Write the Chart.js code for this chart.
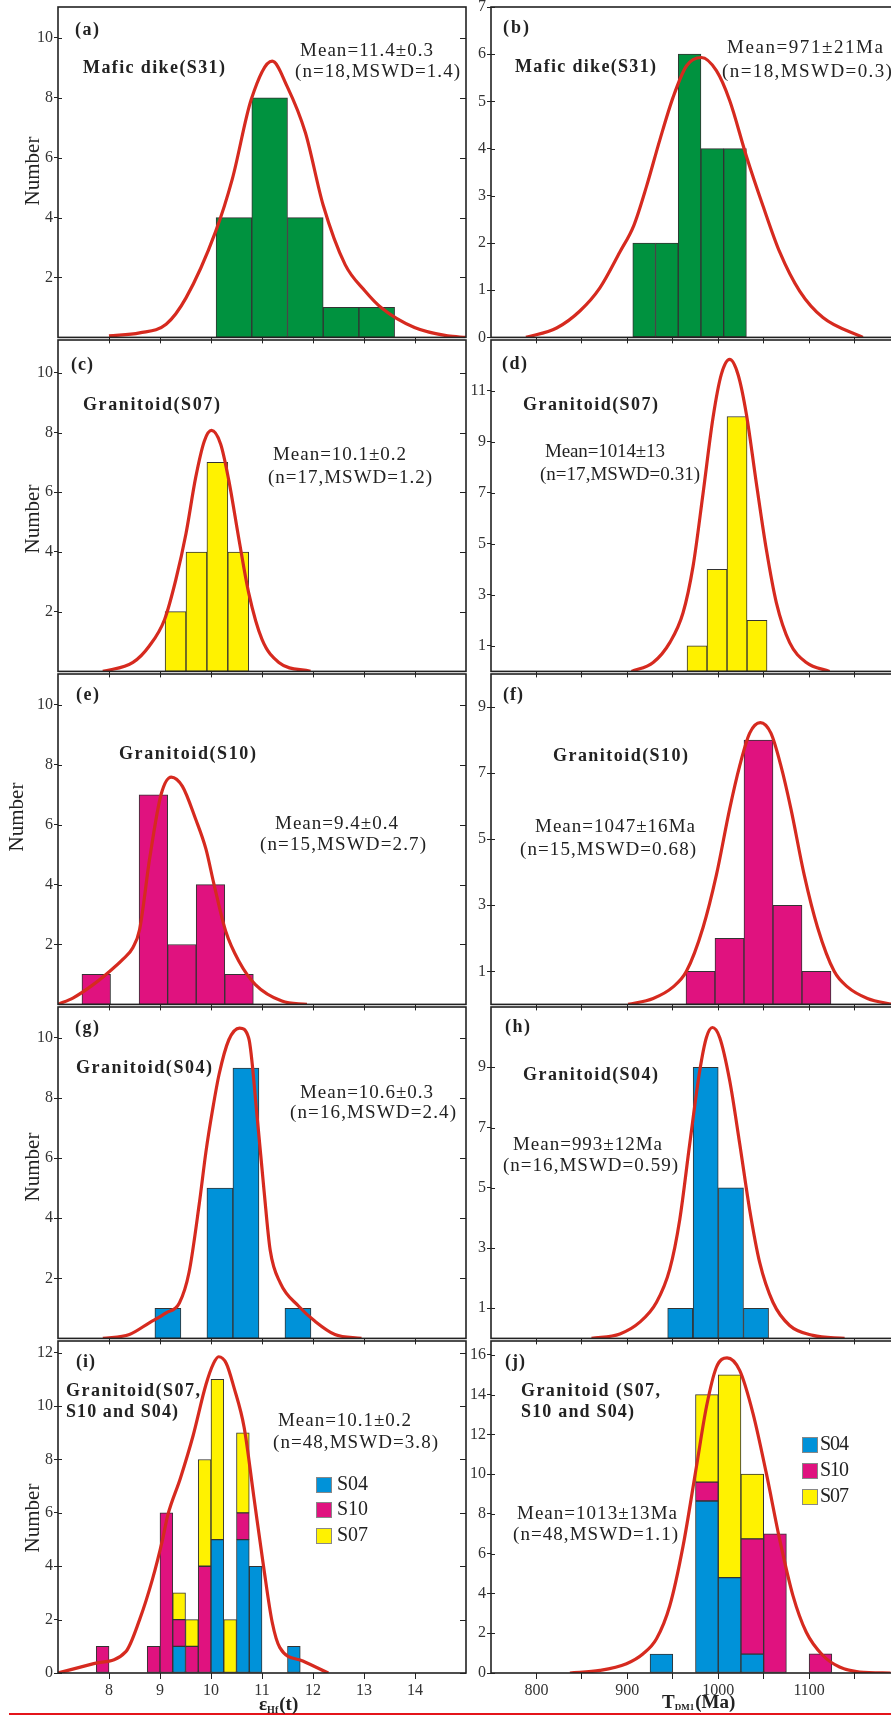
<!DOCTYPE html>
<html>
<head>
<meta charset="utf-8">
<script src="https://cdn.jsdelivr.net/npm/chart.js@4.4.0/dist/chart.umd.min.js"></script>
<style>
html, body { margin: 0; padding: 0; background: #fff; overflow: hidden; }
body { width: 891px; height: 1716px; position: relative; }
#redline { position: absolute; left: 9px; top: 1713px; width: 882px; height: 2px; background: #e4141b; }
</style>
</head>
<body>
<div id="redline"></div>
<script>
// ---- axes ----
const xTicksHf = [8, 9, 10, 11, 12, 13, 14];
const xTicksTdm = [800, 850, 900, 950, 1000, 1050, 1100, 1150];
const yTicksEven = [2, 4, 6, 8, 10];
const yTicksB = [0, 1, 2, 3, 4, 5, 6, 7];
const yTicksD = [1, 3, 5, 7, 9, 11];
const yTicksOdd = [1, 3, 5, 7, 9];
const yTicksI = [0, 2, 4, 6, 8, 10, 12];
const yTicksJ = [0, 2, 4, 6, 8, 10, 12, 14, 16];
const seriesNames = ['S04', 'S10', 'S07'];

// ---- (a) mafic dike S31, eHf(t) ----
const binsA = [10.45, 11.15, 11.85, 12.55, 13.25];
const countsA = [4, 8, 4, 1, 1];
const curveAx = [8.0, 8.6, 9.12, 9.51, 10.09, 10.42, 10.79, 11.2, 11.49, 11.85, 12.2, 12.63, 13.02, 13.34, 13.99, 14.64, 15.0];
const curveAy = [0.05, 0.15, 0.44, 1.32, 3.53, 5.3, 7.95, 9.22, 8.39, 6.84, 4.41, 2.43, 1.55, 0.99, 0.33, 0.05, 0];

// ---- (b) mafic dike S31, TDM1 ----
const binsB = [918.5, 943.5, 968.5, 993.5, 1018.5];
const countsB = [2, 2, 6, 4, 4];
const curveBx = [788.5, 822.2, 847.8, 869.8, 891.8, 907.1, 921.1, 935.7, 950.4, 965, 981.5, 998, 1012.6, 1031, 1049.2, 1067.6, 1089.6, 1115.2, 1159.1];
const curveBy = [0, 0.2, 0.56, 1.05, 1.81, 2.37, 3.2, 4.18, 5.09, 5.75, 5.93, 5.65, 5.02, 3.84, 2.79, 1.81, 0.98, 0.42, 0];

// ---- (c) granitoid S07, eHf(t) ----
const binsC = [9.305, 9.715, 10.125, 10.535];
const countsC = [2, 4, 7, 4];
const curveCx = [7.88, 8.47, 8.79, 9.09, 9.31, 9.51, 9.7, 9.87, 10.01, 10.19, 10.35, 10.55, 10.74, 11.0, 11.33, 11.95];
const curveCy = [0, 0.3, 0.85, 1.74, 3.07, 4.62, 6.5, 7.72, 8.07, 7.61, 6.39, 4.4, 2.62, 1.07, 0.3, 0];

// ---- (d) granitoid S07, TDM1 ----
const binsD = [976.7, 998.7, 1020.7, 1042.7];
const countsD = [1, 4, 10, 2];
const curveDx = [904.6, 928.4, 946.7, 961.3, 972.3, 983.3, 994.3, 1003.4, 1012.6, 1021.8, 1031, 1042, 1053, 1064, 1078.6, 1096.9, 1122.5];
const curveDy = [0, 0.35, 1.13, 2.3, 4.12, 6.98, 9.96, 11.65, 12.24, 11.65, 10.09, 7.37, 4.77, 2.69, 1.13, 0.35, 0];

// ---- (e) granitoid S10, eHf(t) ----
const binsE = [7.75, 8.31, 8.87, 9.43, 9.99, 10.55];
const countsE = [1, 0, 7, 2, 4, 1];
const curveEx = [7.0, 7.3, 7.69, 8.01, 8.27, 8.47, 8.6, 8.8, 9.02, 9.22, 9.44, 9.7, 9.9, 10.06, 10.29, 10.55, 10.87, 11.39, 11.88];
const curveEy = [0, 0.22, 0.66, 1.1, 1.5, 1.9, 2.5, 4.9, 7.0, 7.59, 7.28, 6.18, 5.19, 4.0, 2.43, 1.43, 0.66, 0.11, 0];

// ---- (f) granitoid S10, TDM1 ----
const binsF = [980.5, 1012.4, 1044.3, 1076.2, 1108.1];
const countsF = [1, 2, 8, 3, 1];
const curveFx = [900.9, 928.4, 950.4, 965, 983.3, 998, 1012.6, 1023.6, 1034.6, 1046.3, 1058, 1069, 1080, 1094.6, 1109.3, 1127.6, 1142.2, 1164.2, 1191.7];
const curveFy = [0, 0.18, 0.53, 1.0, 2.33, 3.92, 5.92, 7.22, 8.21, 8.53, 8.21, 7.22, 5.92, 3.92, 2.33, 1.0, 0.53, 0.18, 0];

// ---- (g) granitoid S04, eHf(t) ----
const binsG = [9.155, 9.665, 10.175, 10.685, 11.195, 11.705];
const countsG = [1, 0, 5, 9, 0, 1];
const curveGx = [7.88, 8.4, 8.79, 9.12, 9.38, 9.57, 9.77, 9.9, 10.03, 10.16, 10.35, 10.56, 10.74, 10.9, 11.04, 11.16, 11.36, 11.72, 12.04, 12.43, 12.95];
const curveGy = [0, 0.13, 0.52, 0.85, 1.18, 2.2, 4.48, 6.2, 7.6, 8.8, 9.94, 10.33, 9.99, 7.46, 4.92, 2.94, 1.84, 1.07, 0.57, 0.13, 0];

// ---- (h) granitoid S04, TDM1 ----
const binsH = [958.2, 986.2, 1014, 1041.6];
const countsH = [1, 9, 5, 1];
const curveHx = [860.6, 891.8, 913.7, 932.1, 946.7, 957.7, 968.7, 979.7, 987, 993.6, 1001.6, 1012.6, 1023.6, 1034.6, 1045.6, 1060.2, 1078.6, 1104.2, 1139];
const curveHy = [0, 0.15, 0.54, 1.2, 2.3, 3.95, 6.47, 8.89, 9.99, 10.32, 9.99, 8.56, 6.47, 4.27, 2.52, 1.2, 0.43, 0.1, 0];

// ---- (i) all granitoids, eHf(t), stacked ----
const binsI = [7.875, 8.875, 9.125, 9.375, 9.625, 9.875, 10.125, 10.375, 10.625, 10.875, 11.625];
const s04I = [0, 0, 0, 1, 0, 0, 5, 0, 5, 4, 1];
const s10I = [1, 1, 6, 1, 1, 4, 0, 0, 1, 0, 0];
const s07I = [0, 0, 0, 1, 1, 4, 6, 2, 3, 0, 0];
const curveIx = [7.0, 7.7, 8.33, 8.6, 8.85, 9.05, 9.15, 9.4, 9.65, 9.9, 10.05, 10.15, 10.3, 10.45, 10.65, 10.84, 11.03, 11.2, 11.35, 11.8, 12.3];
const curveIy = [0, 0.35, 0.8, 2.0, 3.5, 5.0, 5.9, 7.3, 8.9, 10.8, 11.6, 11.85, 11.6, 10.7, 9.2, 6.6, 4.0, 1.9, 0.95, 0.45, 0];

// ---- (j) all granitoids, TDM1, stacked ----
const binsJ = [937.5, 987.5, 1012.5, 1037.5, 1062.5, 1112.5];
const s04J = [0.95, 8.65, 4.8, 0.95, 0, 0];
const s10J = [0, 0.95, 0, 5.8, 7, 0.97];
const s07J = [0, 4.4, 10.2, 3.25, 0, 0];
const curveJx = [836.8, 869.8, 899.1, 917.4, 932.1, 946.7, 961.3, 976, 987, 998, 1009.7, 1023.6, 1038.3, 1052.9, 1067.6, 1082.3, 1096.9, 1115.2, 1133.5, 1155.5, 1189.6];
const curveJy = [0, 0.13, 0.47, 0.97, 1.72, 3.38, 6.38, 10.38, 13.38, 15.38, 15.85, 15.22, 13.05, 10.05, 6.72, 3.88, 2.05, 0.88, 0.3, 0.05, 0];

// ---- styling / layout ----
const FONT = "'Liberation Serif', 'Times New Roman', serif";
const INK = '#222';
const RED = '#d62a1f';
const GREEN = '#00923f', YELLOW = '#fff200', PINK = '#e0127f', BLUE = '#0092d9';
const stackColors = [BLUE, PINK, YELLOW];

const rows = [[7, 340], [340, 674], [674, 1007], [1007, 1341], [1341, 1673]];
const cols = [
  { cx: 0, cw: 472, left: 58, right: 466, min: 7, max: 15, ticks: xTicksHf, label: v => String(v) },
  { cx: 445, cw: 462, left: 491, right: 900, min: 750, max: 1200, ticks: xTicksTdm, label: v => (v % 100 === 0 ? String(v) : '') }
];

const panels = [
  { col: 0, row: 0, yMax: 11.03, yTicks: yTicksEven, bars: [[binsA, countsA, GREEN]], curve: [curveAx, curveAy], yTitle: [33, 171],
    notes: [['(a)', 75, 30, 24, 18, true], ['Mafic dike(S31)', 83, 68, 142, 18, true], ['Mean=11.4±0.3', 300, 51, 133, 19, false], ['(n=18,MSWD=1.4)', 295, 72, 165, 19, false]] },
  { col: 1, row: 0, yMax: 7, yTicks: yTicksB, bars: [[binsB, countsB, GREEN]], curve: [curveBx, curveBy],
    notes: [['(b)', 503, 28, 26, 18, true], ['Mafic dike(S31)', 515, 67, 141, 18, true], ['Mean=971±21Ma', 727, 48, 156, 19, false], ['(n=18,MSWD=0.3)', 722, 72, 170, 19, false]] },
  { col: 0, row: 1, yMax: 11.1, yTicks: yTicksEven, bars: [[binsC, countsC, YELLOW]], curve: [curveCx, curveCy], yTitle: [33, 519],
    notes: [['(c)', 71, 365, 22, 18, true], ['Granitoid(S07)', 83, 405, 137, 18, true], ['Mean=10.1±0.2', 273, 455, 133, 19, false], ['(n=17,MSWD=1.2)', 268, 478, 164, 19, false]] },
  { col: 1, row: 1, yMax: 13, yTicks: yTicksD, bars: [[binsD, countsD, YELLOW]], curve: [curveDx, curveDy],
    notes: [['(d)', 502, 364, 25, 18, true], ['Granitoid(S07)', 523, 405, 135, 18, true], ['Mean=1014±13', 545, 452, 120, 19, false], ['(n=17,MSWD=0.31)', 540, 475, 160, 19, false]] },
  { col: 0, row: 2, yMax: 11.03, yTicks: yTicksEven, bars: [[binsE, countsE, PINK]], curve: [curveEx, curveEy], yTitle: [17, 817],
    notes: [['(e)', 76, 695, 23, 18, true], ['Granitoid(S10)', 119, 754, 137, 18, true], ['Mean=9.4±0.4', 275, 824, 123, 19, false], ['(n=15,MSWD=2.7)', 260, 845, 166, 19, false]] },
  { col: 1, row: 2, yMax: 10, yTicks: yTicksOdd, bars: [[binsF, countsF, PINK]], curve: [curveFx, curveFy],
    notes: [['(f)', 503, 695, 20, 18, true], ['Granitoid(S10)', 553, 756, 135, 18, true], ['Mean=1047±16Ma', 535, 827, 160, 19, false], ['(n=15,MSWD=0.68)', 520, 850, 176, 19, false]] },
  { col: 0, row: 3, yMax: 11.03, yTicks: yTicksEven, bars: [[binsG, countsG, BLUE]], curve: [curveGx, curveGy], yTitle: [33, 1167],
    notes: [['(g)', 75, 1028, 24, 18, true], ['Granitoid(S04)', 76, 1068, 136, 18, true], ['Mean=10.6±0.3', 300, 1093, 133, 19, false], ['(n=16,MSWD=2.4)', 290, 1113, 166, 19, false]] },
  { col: 1, row: 3, yMax: 11, yTicks: yTicksOdd, bars: [[binsH, countsH, BLUE]], curve: [curveHx, curveHy],
    notes: [['(h)', 505, 1027, 25, 18, true], ['Granitoid(S04)', 523, 1075, 135, 18, true], ['Mean=993±12Ma', 513, 1145, 149, 19, false], ['(n=16,MSWD=0.59)', 503, 1166, 175, 19, false]] },
  { col: 0, row: 4, yMax: 12.44, yTicks: yTicksI, bars: [[binsI, s04I, BLUE], [binsI, s10I, PINK], [binsI, s07I, YELLOW]], curve: [curveIx, curveIy], yTitle: [33, 1518],
    legend: { x: 316, ys: [1477, 1502, 1528], tx: 337, w: 31 }, xTitle: [['ε', 19], ['Hf', 10], ['(t)', 19]], xTitleAt: [259, 1705],
    notes: [['(i)', 76, 1362, 19, 18, true], ['Granitoid(S07,', 66, 1391, 134, 18, true], ['S10 and S04)', 66, 1412, 112, 18, true], ['Mean=10.1±0.2', 278, 1421, 133, 19, false], ['(n=48,MSWD=3.8)', 273, 1443, 165, 19, false]] },
  { col: 1, row: 4, yMax: 16.7, yTicks: yTicksJ, bars: [[binsJ, s04J, BLUE], [binsJ, s10J, PINK], [binsJ, s07J, YELLOW]], curve: [curveJx, curveJy],
    legend: { x: 802, ys: [1437, 1463, 1489], tx: 820, w: 29 }, xTitle: [['T', 19], ['DM1', 9], ['(Ma)', 19]], xTitleAt: [662, 1703],
    notes: [['(j)', 505, 1362, 20, 18, true], ['Granitoid (S07,', 521, 1391, 139, 18, true], ['S10 and S04)', 521, 1412, 113, 18, true], ['Mean=1013±13Ma', 517, 1514, 160, 19, false], ['(n=48,MSWD=1.1)', 513, 1535, 165, 19, false]] }
];

function drawNote(ctx, n, ox, oy) {
  const [t, x, y, w, size, bold] = n;
  ctx.font = (bold ? 'bold ' : '') + size + 'px ' + FONT;
  ctx.letterSpacing = '0px';
  const m = ctx.measureText(t).width;
  if (w && t.length > 1) ctx.letterSpacing = ((w - m) / (t.length - 1)).toFixed(2) + 'px';
  ctx.fillText(t, x - ox, y - oy);
  ctx.letterSpacing = '0px';
}

// frame, inner ticks, texts, legend and axis titles for one panel
function deco(p, c, cy) {
  return {
    id: 'deco',
    afterDraw(chart) {
      const ctx = chart.ctx, a = chart.chartArea, ys = chart.scales.y;
      const ox = c.cx, oy = cy;
      ctx.save();
      ctx.strokeStyle = INK;
      ctx.lineWidth = 1.6;
      ctx.strokeRect(a.left, a.top, a.right - a.left, a.bottom - a.top);
      ctx.lineWidth = 1;
      ctx.beginPath();
      p.yTicks.forEach(v => {
        const y = Math.round(ys.getPixelForValue(v)) + 0.5;
        ctx.moveTo(a.left, y); ctx.lineTo(a.left + 4, y);
        if (p.col === 0) { ctx.moveTo(a.right - 6, y); ctx.lineTo(a.right, y); }
      });
      ctx.stroke();

      ctx.fillStyle = INK;
      ctx.textBaseline = 'middle';
      ctx.textAlign = 'left';
      p.notes.forEach(n => drawNote(ctx, n, ox, oy));

      if (p.yTitle) {
        ctx.save();
        ctx.translate(p.yTitle[0] - ox, p.yTitle[1] - oy);
        ctx.rotate(-Math.PI / 2);
        ctx.textAlign = 'center';
        ctx.font = '21px ' + FONT;
        ctx.fillText('Number', 0, 0);
        ctx.restore();
      }

      if (p.legend) {
        const L = p.legend;
        seriesNames.forEach((name, i) => {
          ctx.fillStyle = stackColors[i];
          ctx.fillRect(L.x - ox, L.ys[i] - oy, 16, 16);
          ctx.strokeStyle = '#888';
          ctx.strokeRect(L.x - ox + 0.5, L.ys[i] - oy + 0.5, 15, 15);
          ctx.fillStyle = INK;
          drawNote(ctx, [name, L.tx, L.ys[i] + 8, L.w, 20, false], ox, oy);
        });
      }

      if (p.xTitle) {
        let x = p.xTitleAt[0] - ox;
        const y = p.xTitleAt[1] - oy;
        ctx.fillStyle = INK;
        p.xTitle.forEach(([t, s]) => {
          ctx.font = 'bold ' + s + 'px ' + FONT;
          ctx.fillText(t, x, s < 12 ? y + 5 : y);
          x += ctx.measureText(t).width + (s < 12 ? 1 : 0);
        });
      }
      ctx.restore();
    }
  };
}

panels.forEach(p => {
  const c = cols[p.col];
  const [top, bottom] = rows[p.row];
  const last = p.row === 4;
  const cy = top - 12;
  const ch = (last ? 1716 : bottom + 8) - cy;
  const cv = document.createElement('canvas');
  cv.width = c.cw;
  cv.height = ch;
  cv.style.cssText = 'position:absolute;left:' + c.cx + 'px;top:' + cy + 'px;width:' + c.cw + 'px;height:' + ch + 'px;';
  document.body.appendChild(cv);

  const datasets = [{
    type: 'line',
    data: p.curve[0].map((x, i) => ({ x: x, y: p.curve[1][i] })),
    borderColor: RED, borderWidth: 3.2, pointRadius: 0, fill: false,
    cubicInterpolationMode: 'monotone', stack: 'curve', order: 0
  }];
  p.bars.forEach(([bx, by, color], k) => {
    datasets.push({
      type: 'bar',
      label: p.bars.length > 1 ? seriesNames[k] : 'count',
      data: bx.map((x, i) => ({ x: x, y: by[i] || null })),
      backgroundColor: color, borderColor: '#333', borderWidth: 1, borderSkipped: false,
      barPercentage: 1, categoryPercentage: 1, stack: 'hist', order: 1
    });
  });

  new Chart(cv, {
    type: 'bar',
    data: { datasets: datasets },
    options: {
      responsive: false,
      animation: false,
      devicePixelRatio: 1,
      events: [],
      layout: { padding: { top: 12, left: 0, right: c.cx + c.cw - c.right, bottom: 0 } },
      plugins: { legend: { display: false }, tooltip: { enabled: false } },
      scales: {
        x: {
          type: 'linear', min: c.min, max: c.max, offset: false, stacked: true,
          grid: { offset: false, drawOnChartArea: false, drawTicks: true, tickLength: 6, color: INK },
          border: { display: false },
          ticks: { display: last, font: { family: FONT, size: 16 }, color: '#333', padding: 2, maxRotation: 0, autoSkip: false, callback: c.label },
          afterBuildTicks: s => { s.ticks = c.ticks.map(v => ({ value: v })); },
          afterFit: s => { s.height = ch - (bottom - cy); }
        },
        y: {
          type: 'linear', min: 0, max: p.yMax, stacked: true,
          grid: { drawOnChartArea: false, tickLength: 4, color: INK },
          border: { display: false },
          ticks: { font: { family: FONT, size: 16 }, color: '#333', padding: 1, autoSkip: false },
          afterBuildTicks: s => { s.ticks = p.yTicks.map(v => ({ value: v })); },
          afterFit: s => { s.width = c.left - c.cx; }
        }
      }
    },
    plugins: [deco(p, c, cy)]
  });
});
</script>
</body>
</html>
